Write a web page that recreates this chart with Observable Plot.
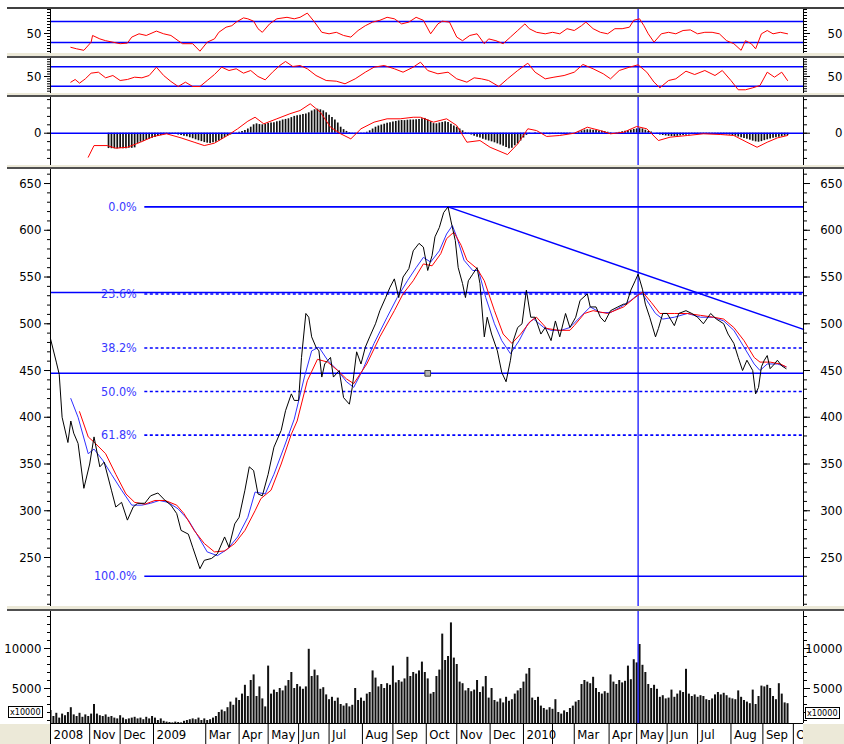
<!DOCTYPE html>
<html><head><meta charset="utf-8">
<script src="https://cdn.jsdelivr.net/npm/d3@7"></script>
<script src="https://cdn.jsdelivr.net/npm/@observablehq/plot@0.6"></script>
<style>
html,body{margin:0;padding:0;background:#fff;}
#chart{position:relative;width:844px;height:744px;overflow:hidden;background:#fff;font-family:"Liberation Sans Narrow","Arial Narrow","DejaVu Sans Condensed",sans-serif;}
.sep{position:absolute;left:7px;width:837px;height:3px;background:#ece9d8;border-bottom:2px solid #505050;}
.beige{position:absolute;background:#ece9d8;}
.unit{position:absolute;background:#fff;border:1px solid #000;font-size:9px;line-height:10px;padding:0 1px;}
</style></head><body><div id="chart"></div><script>
// ---------- DATA (x = trading session index from Oct 2008) ----------
const monthSessions = [0,27,48,71,107,130,150,171,192,215,236,259,280,303,326,346,361,385,404,425,446,469,491,512];
const monthLabels   = ["2008","Nov","Dec","2009","Mar","Apr","May","Jun","Jul","Aug","Sep","Oct","Nov","Dec","2010","","Mar","Apr","May","Jun","Jul","Aug","Sep","Oct"];

const close = [[0,484],[4,459],[6,446],[8,400],[12,373],[14,396],[16,383],[19,372],[23,324],[27,350],[30,379],[34,347],[37,352],[42,322],[45,304],[49,309],[53,290],[57,304],[60,308],[65,308],[69,316],[74,319],[79,311],[83,306],[87,297],[90,279],[95,275],[98,261],[103,238],[106,247],[111,249],[115,254],[120,272],[123,261],[127,286],[130,293],[134,322],[137,347],[140,343],[143,318],[146,316],[150,339],[154,368],[159,386],[162,407],[166,425],[168,418],[171,418],[173,464],[176,511],[178,507],[180,486],[183,475],[185,471],[187,443],[189,457],[193,464],[195,443],[199,450],[202,421],[206,414],[208,432],[211,470],[214,457],[217,475],[220,486],[224,500],[227,514],[231,528],[234,539],[237,548],[240,528],[243,550],[247,559],[250,578],[254,586],[257,582],[260,557],[263,573],[265,593],[268,603],[271,619],[274,625],[276,610],[279,589],[281,560],[284,543],[286,528],[288,546],[291,553],[294,560],[296,543],[299,486],[301,507],[304,489],[308,471],[311,448],[314,438],[317,461],[319,482],[322,496],[325,500],[328,536],[331,507],[334,507],[338,489],[341,496],[345,482],[348,503],[351,486],[355,511],[358,496],[362,507],[365,525],[370,532],[372,518],[376,518],[379,507],[382,502],[386,514],[391,518],[395,521],[397,521],[400,536],[403,546],[405,553],[408,537],[410,521],[413,507],[417,486],[419,495],[422,511],[425,511],[430,498],[433,511],[438,514],[442,511],[446,507],[450,500],[455,511],[459,505],[464,500],[467,489],[471,479],[474,464],[477,450],[480,461],[484,450],[486,425],[488,432],[490,454],[492,461],[494,466],[496,452],[499,457],[501,461],[504,455],[507,452]];

const maFast = [[14,420],[19,400],[26,361],[30,366],[36,354],[42,339],[49,322],[56,306],[63,306],[69,308],[75,311],[81,309],[88,302],[95,290],[102,272],[108,256],[115,252],[122,259],[129,272],[136,293],[141,320],[148,318],[154,339],[161,368],[168,398],[175,443],[180,471],[185,475],[191,461],[198,450],[204,438],[209,432],[215,450],[223,479],[232,507],[239,528],[246,546],[252,560],[257,571],[262,566],[268,578],[273,596],[277,605],[280,593],[285,568],[291,557],[295,557],[300,528],[306,500],[311,482],[317,468],[323,482],[329,500],[333,505],[340,496],[345,493],[352,493],[358,496],[365,507],[372,518],[379,512],[386,512],[393,518],[400,525],[407,534],[411,525],[417,511],[422,505],[430,507],[439,511],[448,507],[457,507],[464,503],[471,493],[478,475],[485,457],[489,450],[494,457],[501,457],[507,454]];

const maSlow = [[20,406],[26,379],[31,372],[38,361],[45,339],[52,318],[58,309],[65,307],[72,311],[79,311],[87,306],[92,297],[99,279],[106,265],[113,256],[120,257],[127,265],[134,279],[141,300],[145,313],[152,322],[159,350],[166,382],[170,396],[177,439],[184,462],[191,459],[198,450],[204,441],[209,436],[218,457],[227,486],[237,514],[243,532],[250,546],[257,564],[263,562],[269,575],[273,591],[278,598],[283,584],[287,568],[294,559],[299,546],[306,514],[312,489],[318,479],[324,489],[331,503],[335,507],[342,495],[350,493],[358,493],[361,498],[368,511],[374,514],[384,511],[395,518],[402,527],[408,534],[414,523],[420,511],[430,511],[439,511],[448,509],[457,507],[464,505],[471,496],[478,482],[485,464],[489,459],[496,459],[503,457],[507,454]];

const rsi = [[14,27],[18,24.5],[23,22],[28,35.5],[29,46.7],[34,41],[38,38],[43,35.5],[48,33],[53,34],[56,44],[61,49.5],[66,46.7],[73,54],[78,49.5],[83,46.7],[88,38],[91,33],[98,33],[103,20.5],[108,35.5],[113,41],[116,52],[121,60.5],[125,63],[128,69],[133,76],[136,74.5],[140,70.5],[143,58],[146,52],[151,66],[156,74.5],[163,77],[168,74.5],[172,77],[177,84],[182,69],[187,52],[192,49.5],[197,52],[202,46.7],[207,44],[212,55],[217,63],[222,69],[227,72],[232,77],[237,74.5],[242,66],[247,69],[252,77],[257,72],[262,49.5],[267,66],[270,70.5],[275,69],[280,44],[284,38],[289,46.7],[294,49.5],[299,33],[302,41],[307,38],[312,33],[317,44],[322,55],[327,66],[330,58],[335,52],[341,49.5],[346,52],[351,49.5],[356,58],[361,55],[366,63],[369,69],[374,58],[379,52],[384,49.5],[389,58],[394,58],[399,60.5],[402,72],[406,74.5],[409,63],[412,49.5],[416,35.5],[421,49.5],[426,52],[431,49.5],[436,55],[441,56],[446,49.5],[451,52],[456,52],[461,49.5],[466,38],[471,33],[476,22],[479,38],[483,33],[486,24.5],[490,49.5],[494,55],[498,49.5],[503,52],[508,49.5]];
const rsiLevels = [70, 35];

const osc2 = [[14,38.4],[17,43.9],[20,36.4],[24,45.2],[28,56.8],[33,58.8],[38,47.3],[43,52],[48,41.8],[53,43.9],[58,48.6],[63,47.3],[68,52],[73,69],[78,52],[83,39.8],[88,29.6],[93,38.4],[98,29.6],[103,29.6],[108,41.8],[113,54],[118,69],[123,62.2],[128,65.7],[133,56.8],[138,62.2],[143,50],[148,43.2],[153,58.8],[158,72.4],[162,80.6],[167,70.4],[172,72.4],[177,65.7],[183,52],[190,41.8],[197,40.4],[203,35.1],[210,45.2],[217,58.8],[223,69],[230,72.4],[237,65.7],[243,58.8],[250,69],[255,79.2],[260,62.2],[267,55.5],[274,58.8],[280,45.2],[287,38.4],[292,47.3],[297,45.2],[302,41.8],[309,29.6],[315,45.2],[322,62.2],[329,77.1],[334,58.8],[341,45.2],[347,48.6],[354,52],[361,58.8],[367,74.5],[374,65.7],[381,55.5],[386,45.2],[392,62.2],[399,69],[405,73.8],[411,58.8],[416,38.4],[420,26.9],[426,41.8],[431,45.2],[438,60.8],[444,54],[451,62.2],[458,52],[463,62.2],[469,41.8],[474,22.9],[479,22.9],[484,26.9],[489,31.6],[494,58.8],[499,48.6],[504,58.8],[508,41.8]];
const osc2Levels = [70, 30];

const macdLine = [[26,-20],[30,-10.3],[39,-10.3],[45,-12.5],[53,-11.7],[62,-7.5],[71,-2.7],[80,-0.5],[90,-3.9],[99,-7.5],[106,-10.3],[113,-8.3],[122,-1.9],[129,3.7],[136,10],[141,13.3],[147,7.8],[156,12],[165,16.2],[172,18.9],[179,24.5],[186,17.5],[193,5],[200,-0.5],[207,-4.7],[214,3.7],[223,9.2],[232,12],[241,12],[250,13.3],[255,13.3],[264,9.2],[273,12],[280,6.4],[287,-7.5],[296,-6.1],[303,-11.7],[315,-17.8],[322,-8.9],[329,3.7],[335,2.2],[342,-2.7],[351,-1.9],[361,0],[370,5],[379,2.2],[386,-0.5],[395,0.8],[404,5.6],[411,3.7],[419,-6.1],[427,-3.3],[439,-1.9],[450,-0.5],[462,-1.1],[471,-1.9],[480,-7.5],[487,-11.7],[494,-7.5],[501,-3.9],[508,-1.9]];
const macdHistStart = 40, macdHistStep = 2;
const macdHist = [-12.8,-12.9,-13,-13,-12.8,-12.9,-13,-12.5,-12.6,-12.2,
-8.5,-7.5,-6.8,-6,-5,-4.2,-3.5,-2.8,-2,-1.2,
-0.6,-0.4,-0.5,-1,-1.5,-2,-2.5,-3,-3.8,-4.6,
-5.5,-6.3,-7,-7.8,-8.3,-8.5,-8,-7.5,-6.5,-5.2,
-3.5,-2.5,-1.5,-0.5,0.2,0.8,1.5,2.2,3.5,5,
7,7.8,7.2,7,7.5,8,8.5,8.8,9.5,10,
11,11.5,12,13,14,14.5,15,15.5,16,17,
18.5,19.5,20,19.5,18.6,17,15,13,11,8.5,
5,3,1.5,0.5,0.2,-0.2,-0.5,-0.3,0.2,0.8,
2,3.5,5,6,6.8,7.5,8.2,8.8,9.3,9.8,
10.3,10.6,10.5,10.8,11,11,11.2,11.5,12,12.3,
11,9.5,8,7.8,8.5,9,9.5,9,7.5,6,
5,3.5,2,0.5,-0.5,-1.5,-2.5,-3.3,-4,-5,
-5.8,-6.5,-7.2,-8,-8.9,-9.8,-10.8,-12,-13,-12.5,
-10.5,-8.9,-6.5,-4,-1.8,-0.5,0,0.3,0,-0.5,
-0.8,-1,-1.2,-1,-0.8,-1,-1.2,-0.8,-0.5,-0.3,
0,0.5,1.2,2,2.6,2.9,2.8,2.5,2.2,1.8,
1.7,1.3,0.8,0.4,0,0.2,0.7,1.2,1.7,2,
2.6,3.2,3.6,3.8,3.6,2.5,1.5,1,0,-0.8,
-1.5,-1.9,-2.3,-2.6,-2.8,-2.8,-2.6,-2.3,-2,-1.7,
-1.4,-1.1,-0.8,-0.6,-0.5,-0.5,-0.6,-0.7,-0.8,-1,
-1,-1.1,-1.2,-1.4,-1.6,-2,-2.5,-3.2,-3.8,-4.4,
-5,-5.8,-6.6,-7.2,-7.5,-7,-6.2,-5.5,-4.8,-4.3,
-3.8,-3.4,-3,-2.5,-2];

const volumeStart = 0, volumeStep = 2;
const volume = [2250,1500,1900,1300,1800,1600,2000,2600,1700,1500,
1900,1400,1700,1500,1800,3000,1800,1600,1500,1700,
1400,1500,1300,1200,1600,1300,1100,1200,1300,1400,
1200,1300,1100,1400,1200,1500,1300,1000,1200,900,
800,750,700,800,750,700,900,1000,1100,1200,
1100,1300,1000,1200,1000,1100,1300,1500,2000,2300,
2100,2600,3300,2900,3800,3500,4300,5400,4000,6000,
6700,4000,5200,3700,2700,7800,4300,4800,4500,5000,
4700,5300,6000,7000,5000,5500,5200,4900,5200,9900,
6500,7300,6600,4900,5100,4200,3600,3900,3400,3800,
3000,2800,3100,2700,2900,5000,3500,3800,3400,4300,
4500,7200,6300,5200,5500,5000,5600,5400,7800,5700,
6000,5800,6200,8900,6500,7000,6800,7200,8300,7000,
6200,4300,4500,6500,7300,11800,8500,9000,13200,8800,
8000,5800,5600,4700,5000,4600,4800,6000,4500,5200,
6500,3800,5000,3500,3300,3700,3200,3900,3400,3600,
4300,4700,5000,5800,6800,7500,3800,3500,3900,2800,
2500,2300,2600,2400,3600,2000,1800,2200,2000,2500,
2800,3300,3500,5500,6000,5800,5600,6400,5000,4500,
4300,4600,4400,6700,5800,5500,6000,5700,5900,7800,
6100,8600,8200,10500,7900,7000,5500,5000,5400,4900,
3900,4100,3700,3800,4800,3900,4300,4700,4500,7400,
4300,4000,4200,3900,4100,4000,3600,3500,3700,4200,
4500,4200,4400,4100,3800,3700,3600,4700,3900,3500,
3300,3100,4800,3000,4000,5300,5200,5400,5000,4000,
3600,5600,4300,3200,3100];

const fibHigh = 625, fibLow = 230, fibStartSession = 65;
const fibRatios = [0, 0.236, 0.382, 0.5, 0.618, 1];
const supportLevels = [533.5, 447];
const trendLine = [[274, 625], [519, 494]];
const handle = [[260, 447]];
const cursorSession = 405;

const priceTicks = [250,300,350,400,450,500,550,600,650];
const volumeTicks = [5000, 10000];

// ---------- RENDER ----------
const chart = document.getElementById("chart");
const FONT = '"Liberation Sans Narrow","Arial Narrow","DejaVu Sans Condensed",sans-serif';
const XD = [0, 519];
const BLUE = "#0000ff";
const px = d => d[0], py = d => d[1];

function addPanel(top, height, yDomain, marks) {
  const svg = Plot.plot({
    width: 844, height, marginLeft: 50, marginRight: 41, marginTop: 0, marginBottom: 0,
    x: {domain: XD, axis: null},
    y: {domain: yDomain, axis: null},
    style: {fontFamily: FONT, fontSize: "13px", color: "#000", background: "transparent", overflow: "visible"},
    marks
  });
  svg.style.position = "absolute";
  svg.style.left = "0px";
  svg.style.top = top + "px";
  chart.appendChild(svg);
}
function yAxes(major, minor) {
  const f = d => String(d);
  return [
    Plot.axisY(minor, {anchor: "left", tickSize: 3, tickFormat: () => "", label: null}),
    Plot.axisY(major, {anchor: "left", tickSize: 6, tickPadding: 3, tickFormat: f, label: null, fontSize: 13}),
    Plot.axisY(minor, {anchor: "right", tickSize: 3, tickFormat: () => "", label: null}),
    Plot.axisY(major, {anchor: "right", tickSize: 6, tickPadding: 33, textAnchor: "end", tickFormat: f, label: null, fontSize: 13}),
    Plot.ruleX([XD[0]], {stroke: "#000"}),
    Plot.ruleX([XD[1]], {stroke: "#000"})
  ];
}
const cursor = () => Plot.ruleX([cursorSession], {stroke: BLUE, strokeWidth: 1.2});

// Panel 1: RSI
addPanel(9, 44, [16.67, 90], [
  Plot.ruleY(rsiLevels, {stroke: BLUE, strokeWidth: 1.4}),
  cursor(),
  Plot.line(rsi, {x: px, y: py, stroke: "#ff0000", strokeWidth: 1}),
  ...yAxes([50], d3.range(20, 91, 5))
]);

// Panel 2: oscillator
addPanel(58, 35, [15.3, 86.7], [
  Plot.ruleY(osc2Levels, {stroke: BLUE, strokeWidth: 1.4}),
  cursor(),
  Plot.line(osc2, {x: px, y: py, stroke: "#ff0000", strokeWidth: 1}),
  ...yAxes([50], d3.range(20, 86, 5))
]);

// Panel 3: MACD
const histData = macdHist.map((v, i) => ({s: macdHistStart + i * macdHistStep, v}));
addPanel(97, 68, [-26.9, 29.75], [
  Plot.ruleX(histData, {x: "s", y1: 0, y2: "v", stroke: "#111", strokeWidth: 1.7}),
  Plot.ruleY([0], {stroke: BLUE, strokeWidth: 1.4}),
  cursor(),
  Plot.line(macdLine, {x: px, y: py, stroke: "#ff0000", strokeWidth: 1}),
  ...yAxes([0], d3.range(-21, 29, 7))
]);

// Panel 4: price
const fib = fibRatios.map(r => ({r, v: fibHigh - r * (fibHigh - fibLow), label: (r * 100).toFixed(1) + "%"}));
const fibSolid = fib.filter(d => d.r === 0 || d.r === 1);
const fibDotted = fib.filter(d => d.r !== 0 && d.r !== 1);
addPanel(169, 437, [197.6, 665], [
  Plot.ruleY(fibSolid, {y: "v", x1: fibStartSession, x2: XD[1], stroke: BLUE, strokeWidth: 1.6}),
  Plot.ruleY(fibDotted, {y: "v", x1: fibStartSession, x2: XD[1], stroke: BLUE, strokeWidth: 1.6, strokeDasharray: "3,2.5"}),
  Plot.ruleY(supportLevels, {stroke: BLUE, strokeWidth: 1.6}),
  Plot.text(fib, {x: fibStartSession, y: "v", text: "label", textAnchor: "end", dx: -8, fill: "#3838ff", fontSize: 12.5}),
  Plot.line(trendLine, {x: px, y: py, stroke: BLUE, strokeWidth: 1.5}),
  cursor(),
  Plot.line(maFast, {x: px, y: py, stroke: "#3030ff", strokeWidth: 1}),
  Plot.line(maSlow, {x: px, y: py, stroke: "#ff0000", strokeWidth: 1}),
  Plot.line(close, {x: px, y: py, stroke: "#000", strokeWidth: 1}),
  Plot.dot(handle, {x: px, y: py, symbol: "square", r: 3.2, fill: "#b4b4b4", stroke: "#404040", strokeWidth: 1}),
  ...yAxes(priceTicks, d3.range(200, 661, 10))
]);

// Panel 5: volume
const volData = volume.map((v, i) => ({s: volumeStart + i * volumeStep, v}));
addPanel(611, 112, [625, 14625], [
  Plot.ruleX(volData, {x: "s", y1: 0, y2: "v", stroke: "#111", strokeWidth: 2, clip: true}),
  cursor(),
  Plot.ruleY([625], {stroke: "#000"}),
  ...yAxes(volumeTicks, d3.range(1000, 14001, 1000))
]);

// Date row
const months = monthSessions.map((s, i) => ({s, label: monthLabels[i]}));
(function () {
  const svg = Plot.plot({
    width: 844, height: 21, marginLeft: 50, marginRight: 41, marginTop: 0, marginBottom: 0,
    x: {domain: XD, axis: null},
    style: {fontFamily: FONT, fontSize: "13px", color: "#000", background: "transparent", overflow: "visible"},
    marks: [
      Plot.ruleX(months, {x: "s", stroke: "#000"}),
      Plot.text(months, {x: "s", text: "label", textAnchor: "start", dx: 3, dy: 1, fontSize: 13, fill: "#000"})
    ]
  });
  svg.style.position = "absolute"; svg.style.left = "0px"; svg.style.top = "723px";
  chart.appendChild(svg);
})();

// Frame decorations
function div(cls, css, text) {
  const d = document.createElement("div");
  d.className = cls; d.style.cssText = css;
  if (text) d.textContent = text;
  chart.appendChild(d);
}
div("", "position:absolute;left:7px;top:7px;width:837px;height:2px;background:#404040;");
div("sep", "top:53px;");
div("sep", "top:93px;height:2px;");
div("sep", "top:165px;height:2px;");
div("sep", "top:606px;");
div("beige", "left:0;top:724px;width:50px;height:20px;");
div("beige", "left:803px;top:724px;width:41px;height:20px;");
div("unit", "left:8px;top:706px;", "x10000");
div("unit", "left:805px;top:707px;", "x10000");
</script></body></html>
